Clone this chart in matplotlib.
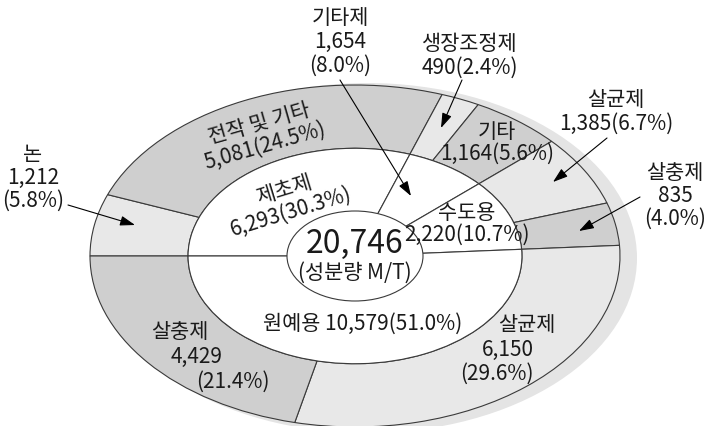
import matplotlib
matplotlib.use("Agg")
import matplotlib.pyplot as plt
from matplotlib.patches import Ellipse

plt.rcParams['font.family'] = ['Noto Sans CJK KR', 'DejaVu Sans']

# 바깥 고리 (세부 용도)
outer_labels = ['논', '전작 및 기타', '생장조정제', '기타', '살균제', '살충제', '살균제', '살충제']
outer_values = [1212, 5081, 490, 1164, 1385, 835, 6150, 4429]
outer_pcts = [5.8, 24.5, 2.4, 5.6, 6.7, 4.0, 29.6, 21.4]

# 안쪽 (용도별)
inner_labels = ['제초제', '기타제', '수도용', '원예용']
inner_values = [6293, 1654, 2220, 10579]
inner_pcts = [30.3, 8.0, 10.7, 51.0]

total = 20746
unit = '(성분량 M/T)'

DARK = '#cfcfcf'
LIGHT = '#e8e8e8'
EDGE = '#3a3a3a'
outer_colors = [LIGHT, DARK, LIGHT, DARK, LIGHT, DARK, LIGHT, DARK]

# 픽셀 -> 데이터 좌표 (중심 355,256 / 반지름 265 x 171 px)
CX, CY, RX, RY = 355, 256, 265, 171


def P(px, py):
    return ((px - CX) / RX, (CY - py) / RY)


fig = plt.figure(figsize=(7.07, 4.26), dpi=100)
ax = fig.add_axes([0, 0, 1, 1])

# 그림자
ax.add_patch(Ellipse((12 / RX, -2 / RY), 2 * 270 / RX, 2 * 175 / RY,
                     facecolor='#e4e4e4', edgecolor='none', zorder=0))

wp = dict(edgecolor=EDGE, linewidth=0.8)
ax.pie(outer_values, radius=1.0, startangle=180, counterclock=False,
       colors=outer_colors, wedgeprops=dict(width=0.37, **wp))
ax.pie(inner_values, radius=0.63, startangle=180, counterclock=False,
       colors=['white'] * len(inner_values), wedgeprops=wp)
ax.add_patch(Ellipse((0, 0), 2 * 68 / RX, 2 * 45 / RY,
                     facecolor='white', edgecolor=EDGE, linewidth=0.8, zorder=5))

ax.set_aspect('auto')
ax.set_xlim(-CX / RX, (707 - CX) / RX)
ax.set_ylim(-(426 - CY) / RY, CY / RY)
ax.axis('off')

FS = 15
TC = '#1a1a1a'


def txt(s, px, py, rot=0, size=FS, ls=1.05):
    x, y = P(px, py)
    ax.text(x, y, s, ha='center', va='center', fontsize=size, color=TC,
            rotation=rot, rotation_mode='anchor', linespacing=ls, zorder=10)


def arrow(p0, p1):
    ax.annotate('', xy=P(*p1), xytext=P(*p0), zorder=11,
                arrowprops=dict(arrowstyle='-|>,head_length=0.9,head_width=0.3',
                                mutation_scale=10, color='black', lw=0.8,
                                shrinkA=0, shrinkB=0))


def lab(i, outer=True):
    if outer:
        return outer_labels[i], f'{outer_values[i]:,}', f'({outer_pcts[i]}%)'
    return inner_labels[i], f'{inner_values[i]:,}', f'({inner_pcts[i]}%)'


# 중앙
txt(f'{total:,}', 355, 244, size=23)
txt(unit, 355, 273, size=15)

# 바깥 라벨 (화살표)
n, v, p = lab(1, outer=False)
txt(f'{n}\n{v}\n{p}', 340, 42, ls=1.1)
arrow((340, 80), (411, 196))

n, v, p = lab(2)
txt(f'{n}\n{v}{p}', 470, 56, ls=1.1)
arrow((462, 80), (441, 128))

n, v, p = lab(4)
txt(f'{n}\n{v}{p}', 616, 112, ls=1.1)
arrow((607, 138), (553, 182))

n, v, p = lab(5)
txt(f'{n}\n{v}\n{p}', 675, 196, ls=1.05)
arrow((640, 197), (579, 231))

n, v, p = lab(0)
txt(f'{n}\n{v}\n{p}', 33, 178, ls=1.05)
arrow((68, 205), (135, 225))

# 고리 안 라벨
n, v, p = lab(1)
txt(f'{n}\n{v}{p}', 262, 135, rot=16, ls=1.05)
n, v, p = lab(0, outer=False)
txt(f'{n}\n{v}{p}', 288, 201, rot=17, ls=1.05)
n, v, p = lab(3)
txt(f'{n}\n{v}{p}', 497, 143, ls=0.95)
n, v, p = lab(2, outer=False)
txt(f'{n}\n{v}{p}', 467, 224, ls=0.95)
n, v, p = lab(3, outer=False)
txt(f'{n} {v}{p}', 363, 324)

n, v, p = lab(6)
txt(n, 527, 325)
txt(v, 508, 350)
txt(p, 497, 374)

n, v, p = lab(7)
txt(n, 180, 332)
txt(v, 197, 357)
txt(p, 233, 382)

fig.savefig('out.png', dpi=100)
